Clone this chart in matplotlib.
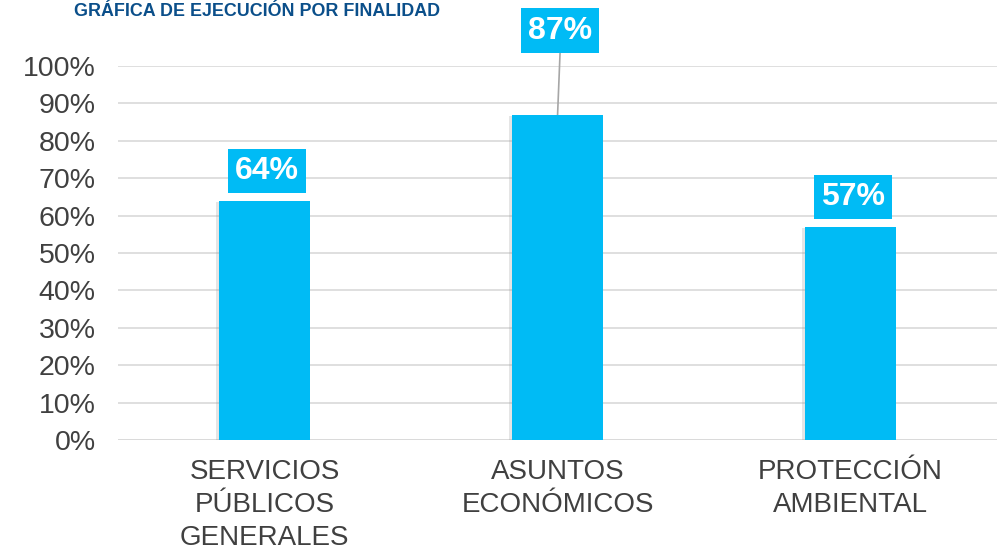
import matplotlib.pyplot as plt
import matplotlib.patheffects as pe

plt.rcParams['font.family'] = ['Liberation Sans', 'DejaVu Sans']

categories = ['SERVICIOS\nPÚBLICOS\nGENERALES', 'ASUNTOS\nECONÓMICOS', 'PROTECCIÓN\nAMBIENTAL']
values = [0.64, 0.87, 0.57]
labels = ['64%', '87%', '57%']
yticks = [0, 0.1, 0.2, 0.3, 0.4, 0.5, 0.6, 0.7, 0.8, 0.9, 1.0]

bar_color = '#00BBF5'
text_color = '#404040'

fig = plt.figure(figsize=(10.07, 5.49), dpi=100)
ax = fig.add_axes([0.1172, 0.1985, 0.873, 0.6812])

x = range(len(values))
bars = ax.bar(x, values, width=0.31, color=bar_color, zorder=3)
for b in bars:
    b.set_path_effects([pe.SimplePatchShadow(offset=(-2, -1), shadow_rgbFace='#999999', alpha=0.25), pe.Normal()])

ax.set_xlim(-0.5, 2.5)
ax.set_ylim(0, 1.0)
ax.set_yticks(yticks)
ax.set_yticklabels([f'{int(round(t * 100))}%' for t in yticks], fontsize=20.5, color=text_color)
ax.set_xticks(list(x))
ax.set_xticklabels(categories, fontsize=20, color=text_color, linespacing=1.33)
ax.tick_params(axis='both', length=0)
ax.tick_params(axis='x', pad=14)
ax.tick_params(axis='y', pad=16)
ax.grid(axis='y', color='#d9d9d9', linewidth=1.2, zorder=0)
for s in ax.spines.values():
    s.set_visible(False)
ax.axhline(0, color='#d9d9d9', linewidth=1.2, zorder=1)

# data labels
offsets = [0.08, 0.225, 0.08]
for i, (v, lab) in enumerate(zip(values, labels)):
    ly = v + offsets[i]
    if offsets[i] > 0.1:
        ax.plot([i, i + 0.01], [v, ly - 0.03], color='#a6a6a6', linewidth=1.2, zorder=2, clip_on=False)
    ax.text(i + 0.008, ly, lab, ha='center', va='center', fontsize=23, fontweight='bold',
            color='white', clip_on=False, zorder=4,
            bbox=dict(boxstyle='square,pad=0.22', facecolor=bar_color, edgecolor='none'))

fig.text(0.073, 1 - 16 / 549, 'GRÁFICA DE EJECUCIÓN POR FINALIDAD', ha='left', va='baseline',
         fontsize=12.9, fontweight='bold', color='#0B4F8A')

fig.savefig('out.png', dpi=100)
